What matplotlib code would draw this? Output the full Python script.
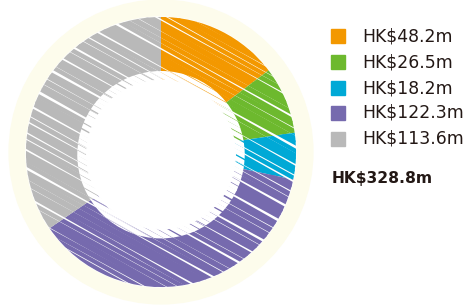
import numpy as np
import matplotlib
matplotlib.use("Agg")
import matplotlib.pyplot as plt
from matplotlib.patches import Circle, Rectangle

labels = ["HK$48.2m", "HK$26.5m", "HK$18.2m", "HK$122.3m", "HK$113.6m"]
values = [48.2, 26.5, 18.2, 122.3, 113.6]
colors = ["#F39800", "#6DB92E", "#00A9D6", "#766AAE", "#B9B9B9"]
total_label = "HK$328.8m"

W, H = 471, 305
fig = plt.figure(figsize=(W / 100, H / 100), dpi=100)
ax = fig.add_axes([(161 - 153) / W, (H - 152 - 153) / H, 306 / W, 306 / H])
ax.axis("off")

# cream backdrop + white base for the sketch
ax.add_patch(Circle((0, 0), 1.125, color="#FDFCEC", zorder=0))
ax.add_patch(Circle((0, 0), 1.0, color="white", zorder=1))

wedges, _ = ax.pie(values, colors=colors, startangle=90, counterclock=False,
                   radius=1.0, wedgeprops=dict(linewidth=0, alpha=0))
ax.set_xlim(-1.133, 1.133)
ax.set_ylim(-1.133, 1.133)
ax.set_aspect("equal")

# hand-drawn look: thick diagonal strokes clipped to each wedge
ang = np.deg2rad(-29)
d = np.array([np.cos(ang), np.sin(ang)])
n = np.array([-d[1], d[0]])
offs = np.arange(-1.1, 1.1, 0.038)
for w, c in zip(wedges, colors):
    for k, off in enumerate(offs):
        jit = 0.012 * np.sin(k * 2.3)
        p0 = n * (off + jit) - d * 1.3
        p1 = n * (off - jit) + d * 1.3
        lw = 3.6 + 0.6 * np.sin(k * 1.3)
        ln, = ax.plot([p0[0], p1[0]], [p0[1], p1[1]], color=c, lw=lw,
                      solid_capstyle="round", zorder=2)
        ln.set_clip_path(w)

# white centre, roughly scribbled
ax.add_patch(Circle((0, -0.02), 0.55, color="white", zorder=3))
inner = Circle((0, -0.02), 0.62, transform=ax.transData)
for k, off in enumerate(offs):
    jit = 0.012 * np.sin(k * 1.7)
    p0 = n * (off + jit) - d * 1.3
    p1 = n * (off - jit) + d * 1.3
    ln, = ax.plot([p0[0], p1[0]], [p0[1], p1[1]], color="white", lw=3.3,
                  solid_capstyle="round", zorder=3)
    ln.set_clip_path(inner)

# legend
ys = [36, 62, 88, 113, 139]
for lab, c, y in zip(labels, colors, ys):
    fig.patches.append(Rectangle((331 / W, (H - y - 7) / H), 14 / W, 14 / H,
                                 transform=fig.transFigure, color=c))
    fig.text(362 / W, (H - y) / H, lab, fontsize=12.4, color="#231815",
             va="center", ha="left", family="DejaVu Sans")
fig.text(332 / W, (H - 178) / H, total_label, fontsize=11.2, color="#231815",
         va="center", ha="left", fontweight="bold", family="DejaVu Sans")

fig.savefig("out.png", dpi=100)
